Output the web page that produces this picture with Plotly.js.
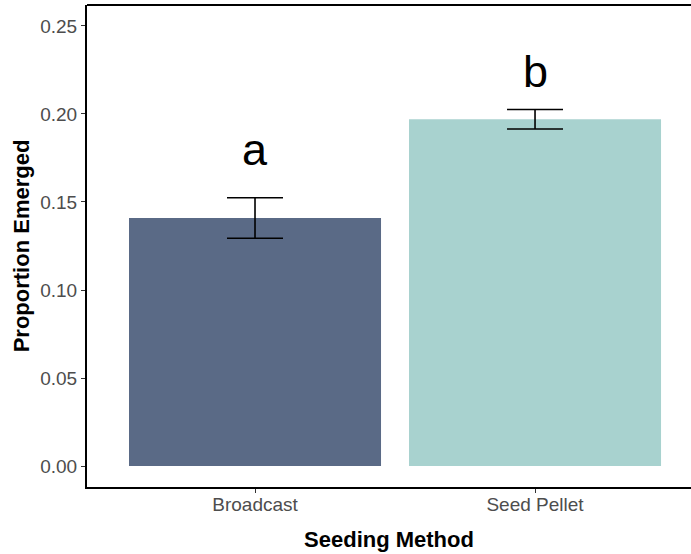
<!DOCTYPE html>
<html>
<head>
<meta charset="utf-8">
<script src="https://cdn.plot.ly/plotly-3.0.1.min.js"></script>
<style>html,body{margin:0;padding:0;background:#fff;}</style>
</head>
<body>
<div id="chart" style="width:691px;height:554px;"></div>
<script>
const categories = ["Broadcast", "Seed Pellet"];
const meanValues = [0.1409, 0.1970];
const seValues = [0.0115, 0.0055];
const groupLabels = ["a", "b"];
const labelY = [0.180, 0.2242];
const yTickValues = [0, 0.05, 0.10, 0.15, 0.20, 0.25];
const barColors = ["#5a6a86", "#a8d2cf"];

const font = "Liberation Sans, Arial, sans-serif";

const trace = {
  type: "bar",
  x: categories,
  y: meanValues,
  width: 0.9,
  marker: {color: barColors, line: {width: 0}},
  error_y: {type: "data", array: seValues, visible: true, color: "#000000", thickness: 1.6, width: 28},
  hoverinfo: "none"
};

const annotations = categories.map((c, i) => ({
  x: c, y: labelY[i], xref: "x", yref: "y",
  text: groupLabels[i], showarrow: false,
  xanchor: "center", yanchor: "middle",
  font: {family: font, size: 45, color: "#000000"}
}));

const layout = {
  width: 691, height: 554,
  margin: {l: 87, r: 0, t: 5, b: 67, pad: 0},
  paper_bgcolor: "#ffffff", plot_bgcolor: "#ffffff",
  showlegend: false,
  xaxis: {
    type: "category",
    range: [-0.6, 1.557],
    showline: true, linecolor: "#000000", linewidth: 2,
    ticks: "outside", ticklen: 4, tickcolor: "#333333", tickwidth: 1,
    ticklabelstandoff: -5,
    showgrid: false, zeroline: false,
    tickfont: {family: font, size: 19, color: "#4d4d4d"},
    title: {text: "Seeding Method", font: {family: font, size: 22, color: "#000000", weight: "bold"}, standoff: 18}
  },
  yaxis: {
    range: [-0.0119, 0.2619],
    tickvals: yTickValues,
    tickformat: ".2f",
    showline: true, linecolor: "#000000", linewidth: 2,
    ticks: "outside", ticklen: 4, tickcolor: "#333333", tickwidth: 1,
    showgrid: false, zeroline: false,
    tickfont: {family: font, size: 19, color: "#4d4d4d"},
    title: {text: "Proportion Emerged", font: {family: font, size: 22, color: "#000000", weight: "bold"}, standoff: 5}
  },
  shapes: [{type: "line", xref: "paper", yref: "paper", x0: 0, x1: 1, y0: 1, y1: 1, line: {color: "#000000", width: 2}}],
  annotations: annotations
};

Plotly.newPlot("chart", [trace], layout, {displayModeBar: false, staticPlot: true});
</script>
</body>
</html>
